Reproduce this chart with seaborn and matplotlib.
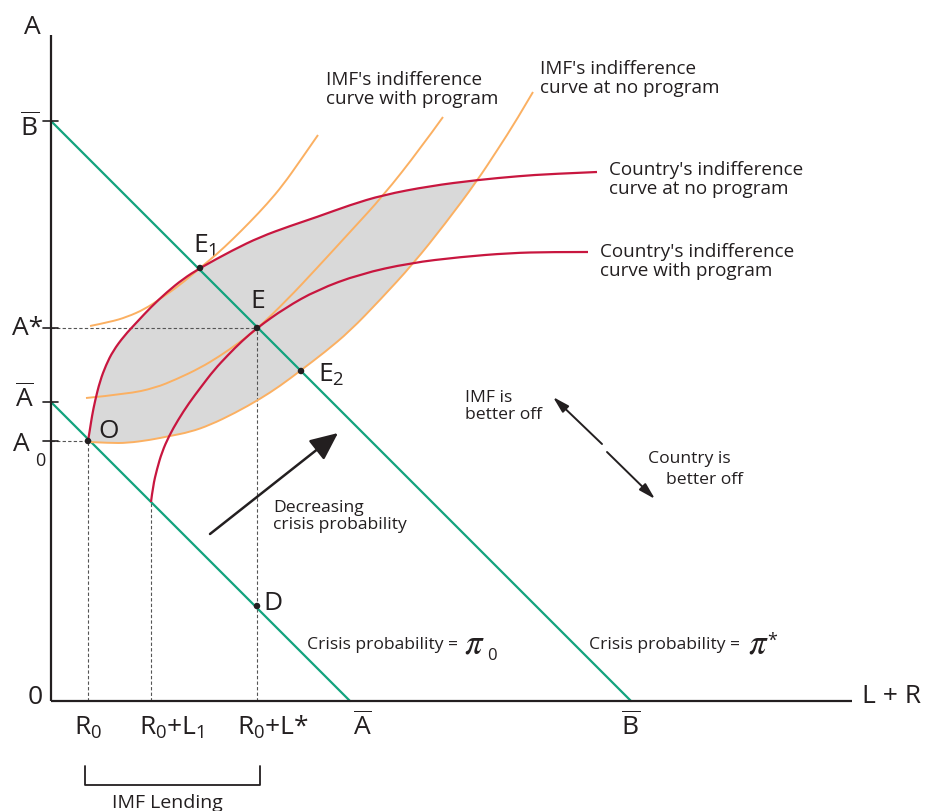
import numpy as np
import pandas as pd
import matplotlib
matplotlib.use("Agg")
import matplotlib.pyplot as plt
from matplotlib.path import Path
from matplotlib.patches import PathPatch
import seaborn as sns

# ---------------- data (chart units, origin at axes corner) ----------------
# Country's indifference curve at no program
cn_x = [37, 39, 41, 44, 49, 55, 62, 73, 86, 100, 116, 132, 149, 182, 209, 239, 266, 299, 332, 379, 426, 469, 499, 546]
cn_y = [260, 272, 285, 300, 320, 336, 350, 365, 379, 394, 409, 422, 433, 451, 464, 475, 484, 496, 506, 515, 521, 525, 527, 529]
# Country's indifference curve with program
cw_x = [100, 102, 106, 111, 118, 127, 138, 150, 163, 177, 191, 206, 234, 266, 309, 359, 409, 459, 499, 537]
cw_y = [199, 215, 232, 249, 265, 281, 298, 314, 331, 346, 360, 373, 393, 411, 427, 438, 444, 448, 449, 449]
# IMF indifference curve through E1
i1_x = [39, 59, 76, 94, 109, 129, 149, 166, 182, 199, 216, 232, 249, 267]
i1_y = [375, 379, 384, 392, 402, 416, 433, 447, 462, 479, 497, 516, 540, 566]
# IMF's indifference curve with program (through E)
i2_x = [35, 76, 104, 126, 149, 169, 189, 206, 236, 266, 299, 332, 369, 392]
i2_y = [303, 307, 313, 322, 333, 345, 359, 372, 401, 433, 469, 505, 552, 584]
# IMF's indifference curve at no program (through O and E2)
i3_x = [38, 59, 76, 99, 119, 139, 159, 184, 209, 229, 249, 274, 299, 329, 362, 394, 426, 447, 465, 482]
i3_y = [259, 258, 258, 261, 265, 269, 276, 288, 302, 315, 330, 349, 370, 401, 437, 477, 520, 552, 580, 609]
# budget lines (crisis probability iso-lines)
b_bar = 580   # B-bar intercept (both axes)
a_bar = 299   # A-bar intercept (both axes)
# key points
pt_names = ["E1", "E", "E2", "O", "D"]
pt_x = [149, 206, 250, 37, 206]
pt_y = [433, 373, 330, 260, 95]
# axis tick values
ytick_vals = [580, 373, 299, 260]
ytick_labels = [r"$\overline{\mathrm{B}}$", "A*", r"$\overline{\mathrm{A}}$", ""]
xtick_vals = [37, 121, 222, 311, 580]
xtick_labels = [r"$\mathrm{R_0}$", r"$\mathrm{R_0{+}L_1}$", r"$\mathrm{R_0{+}L}$*",
                r"$\overline{\mathrm{A}}$", r"$\overline{\mathrm{B}}$"]

GREEN = "#12a37e"
RED = "#c8163f"
ORANGE = "#fbb062"
GRAY = "#d9d9d9"
INK = "#231f20"

sns.set_theme(style="white")
plt.rcParams["font.family"] = ["Open Sans", "DejaVu Sans"]
plt.rcParams["mathtext.fontset"] = "custom"
plt.rcParams["mathtext.rm"] = "Open Sans"
plt.rcParams["mathtext.it"] = "Open Sans:italic"
plt.rcParams["mathtext.bf"] = "Open Sans:bold"

fig = plt.figure(figsize=(9.26, 8.12), dpi=100)
ax = fig.add_axes([0, 0, 1, 1])
ax.set_xlim(-51, 875)
ax.set_ylim(-110, 702)
ax.axis("off")


def smooth_segments(xs, ys):
    """Quadratic-Bezier path through the read points (library draws the curve)."""
    pts = list(zip(xs, ys))
    verts, codes = [pts[0]], [Path.MOVETO]
    n = len(pts)
    for i in range(1, n - 1):
        end = pts[-1] if i == n - 2 else ((pts[i][0] + pts[i + 1][0]) / 2,
                                          (pts[i][1] + pts[i + 1][1]) / 2)
        verts += [pts[i], end]
        codes += [Path.CURVE3, Path.CURVE3]
    return verts, codes


def draw_curve(xs, ys, color, lw, z):
    v, c = smooth_segments(xs, ys)
    ax.add_patch(PathPatch(Path(v, c), fc="none", ec=color, lw=lw, zorder=z,
                           capstyle="butt"))


# shaded lens between country no-program curve and IMF no-program curve
k = cn_x.index(426)
j = i3_x.index(426)
v1, c1 = smooth_segments(cn_x[:k + 1], cn_y[:k + 1])
v2, c2 = smooth_segments(i3_x[:j + 1][::-1], i3_y[:j + 1][::-1])
c2 = [Path.LINETO] + c2[1:]
ax.add_patch(PathPatch(Path(v1 + v2 + [v1[0]], c1 + c2 + [Path.CLOSEPOLY]),
                       fc=GRAY, ec="none", zorder=1))

# dashed guides
dash = dict(color="#555555", lw=0.8, ls=(0, (3, 2)), zorder=2)
ax.plot([0, pt_x[1]], [pt_y[1], pt_y[1]], **dash)
ax.plot([pt_x[1], pt_x[1]], [0, pt_y[1]], **dash)
ax.plot([0, pt_x[3]], [pt_y[3], pt_y[3]], **dash)
ax.plot([pt_x[3], pt_x[3]], [0, pt_y[3]], **dash)
ax.plot([cw_x[0], cw_x[0]], [0, cw_y[0]], **dash)

# green lines
sns.lineplot(x=[0, b_bar], y=[b_bar, 0], color=GREEN, lw=1.6, ax=ax, zorder=3)
sns.lineplot(x=[0, a_bar], y=[a_bar, 0], color=GREEN, lw=1.6, ax=ax, zorder=3)

# curves
for xs, ys in [(i1_x, i1_y), (i2_x, i2_y), (i3_x, i3_y)]:
    draw_curve(xs, ys, ORANGE, 1.4, 4)
for xs, ys in [(cn_x, cn_y), (cw_x, cw_y)]:
    draw_curve(xs, ys, RED, 1.6, 5)

# points
sns.scatterplot(x=pt_x, y=pt_y, color=INK, s=22, edgecolor="none", ax=ax, zorder=6)

# axes
ax.plot([0, 0], [0, 666], color=INK, lw=1.6, zorder=7, solid_capstyle="butt")
ax.plot([0, 801], [0, 0], color=INK, lw=1.6, zorder=7, solid_capstyle="butt")
for yv in ytick_vals:
    ax.plot([-8, 7], [yv, yv], color=INK, lw=1.2, zorder=7)

BIG = 19
ax.text(-19, 675, "A", fontsize=BIG, color=INK, ha="center", va="center")
ax.text(-16, 4, "0", fontsize=BIG, color=INK, ha="center", va="center")
ax.text(841, 5, "L + R", fontsize=BIG, color=INK, ha="center", va="center")
ytick_pos = [(-21, 575), (-23, 373), (-27, 304)]
for (xx, yy), lab in zip(ytick_pos, ytick_labels[:3]):
    ax.text(xx, yy, lab, fontsize=BIG, color=INK, ha="center", va="center")
ax.text(-30, 257, "A", fontsize=BIG, color=INK, ha="center", va="center")
ax.text(-11, 241, "0", fontsize=13, color=INK, ha="center", va="center")
for xv, lab in zip(xtick_vals, xtick_labels):
    ax.text(xv, -33, lab, fontsize=BIG, color=INK, ha="center", va="baseline")

# point labels
pt_lab = {"E1": (142, 449, r"$\mathrm{E_1}$"), "E": (199, 394, "E"),
          "E2": (267, 320, r"$\mathrm{E_2}$"), "O": (47, 264, "O"), "D": (212, 92, "D")}
for nm in pt_names:
    xx, yy, lab = pt_lab[nm]
    ax.text(xx, yy, lab, fontsize=BIG, color=INK, ha="left", va="baseline")

# descriptive labels
MED = 13.6
SMALL = 12.6
ax.text(275, 631, "IMF's indifference\ncurve with program", fontsize=MED, color=INK,
        ha="left", va="top", linespacing=1.05)
ax.text(489, 642, "IMF's indifference\ncurve at no program", fontsize=MED, color=INK,
        ha="left", va="top", linespacing=1.05)
ax.text(558, 541, "Country's indifference\ncurve at no program", fontsize=MED, color=INK,
        ha="left", va="top", linespacing=1.05)
ax.text(549, 459, "Country's indifference\ncurve with program", fontsize=MED, color=INK,
        ha="left", va="top", linespacing=1.05)
ax.text(222, 202, "Decreasing\ncrisis probability", fontsize=SMALL, color=INK,
        ha="left", va="top", linespacing=1.1)
ax.text(414, 312, "IMF is\nbetter off", fontsize=SMALL, color=INK,
        ha="left", va="top", linespacing=1.1)
ax.text(597, 251, "Country is", fontsize=SMALL, color=INK, ha="left", va="top")
ax.text(615, 230, "better off", fontsize=SMALL, color=INK, ha="left", va="top")
ax.text(256, 57, "Crisis probability =", fontsize=SMALL, color=INK, ha="left", va="center")
ax.text(413, 57, r"$\pi$", fontsize=25, math_fontfamily="stix", color=INK, ha="left", va="center")
ax.text(436, 46, "0", fontsize=12, color=INK, ha="left", va="center")
ax.text(538, 57, "Crisis probability =", fontsize=SMALL, color=INK, ha="left", va="center")
ax.text(697, 57, r"$\pi$", fontsize=25, math_fontfamily="stix", color=INK, ha="left", va="center")
ax.text(716, 61, "*", fontsize=13, color=INK, ha="left", va="center")
ax.text(116, -101, "IMF Lending", fontsize=14, color=INK, ha="center", va="center")

# bracket
ax.plot([34, 34, 209, 209], [-65, -84, -84, -65], color=INK, lw=1.3)

# arrows
ax.annotate("", xy=(287, 268), xytext=(159, 167),
            arrowprops=dict(arrowstyle="-|>,head_length=1.0,head_width=0.45", mutation_scale=17,
                            lw=1.8, color=INK, shrinkA=0, shrinkB=0))
ax.annotate("", xy=(502, 304), xytext=(551, 257),
            arrowprops=dict(arrowstyle="-|>,head_length=0.9,head_width=0.25", mutation_scale=11,
                            lw=1.4, color=INK, shrinkA=0, shrinkB=0))
ax.annotate("", xy=(604, 202), xytext=(556, 249),
            arrowprops=dict(arrowstyle="-|>,head_length=0.9,head_width=0.25", mutation_scale=11,
                            lw=1.4, color=INK, shrinkA=0, shrinkB=0))

fig.savefig("out.png", dpi=100)
